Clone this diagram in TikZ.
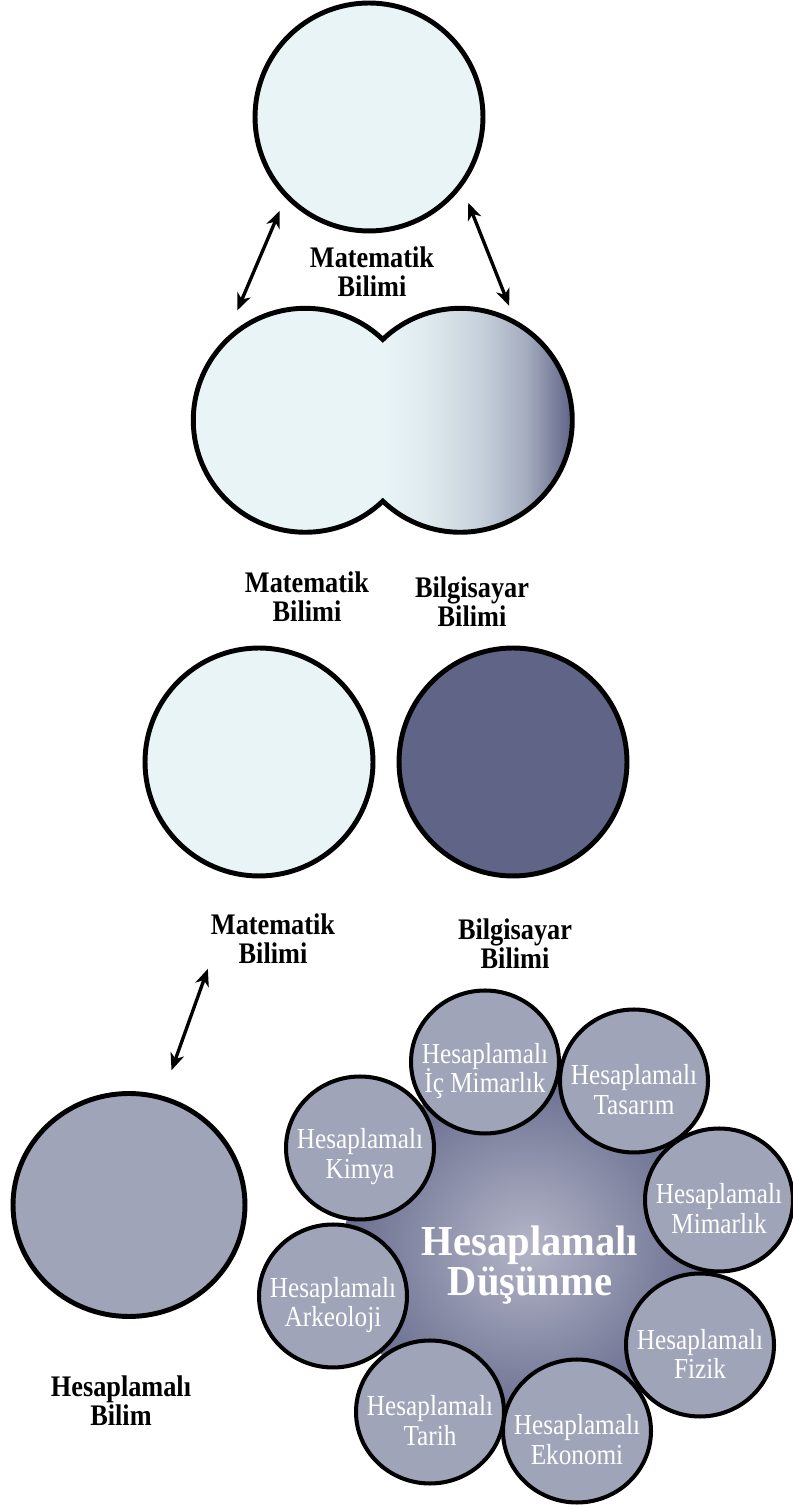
\documentclass[tikz,border=0pt]{standalone}
\usepackage{fontspec}
\setmainfont{Liberation Serif}
\newfontfamily\lblfont{Liberation Serif}[FakeStretch=0.88]
\newfontfamily\innerfont{Liberation Serif}[FakeStretch=0.87]
\newfontfamily\bigfont{Liberation Serif}[FakeStretch=0.95]
\usetikzlibrary{arrows.meta,
                 shapes.geometric,
                 backgrounds}
\lineskiplimit=-20pt

\definecolor{mathc}{HTML}{E8F4F6}
\definecolor{compc}{HTML}{606487}
\definecolor{slatec}{HTML}{A0A4B9}
\definecolor{blobin}{HTML}{B3B5C7}
\definecolor{blobout}{HTML}{666A8C}

\pgfdeclarehorizontalshading{mergeshade}{100bp}{color(0bp)=(mathc); color(50bp)=(mathc); color(56bp)=(mathc!93!compc); color(63bp)=(mathc!75!compc); color(69bp)=(mathc!50!compc); color(75bp)=(compc); color(100bp)=(compc)}

\tikzset{bigc/.style = {circle, draw, line width=2.8pt, minimum size=4.56cm, inner sep=0pt}}
\tikzset{lobe/.style = {circle, minimum size=4.48cm, inner sep=0pt, outer sep=0pt}}
\tikzset{smallc/.style = {ellipse, draw, line width=2.3pt, fill=slatec, minimum width=2.96cm, minimum height=2.86cm, inner sep=0pt}}
\tikzset{lbl/.style = {align=center, font=\lblfont\bfseries\fontsize{17}{16.5}\selectfont, inner sep=1pt}}
\tikzset{intxt/.style = {align=center, text=white, font=\innerfont\fontsize{16.5}{17}\selectfont, yshift=-0.18cm}}
\tikzset{dbl/.style = {{Stealth[length=0.34cm,width=0.28cm,inset=0.1cm]}-{Stealth[length=0.34cm,width=0.28cm,inset=0.1cm]}, line width=1.9pt}}

\begin{document}
\begin{tikzpicture}[x=0.02cm, y=0.02cm]
    \useasboundingbox (0,0) rectangle (792,1505);

    \node[bigc, fill=mathc] (mtop) at (369,1388) {};
    \node[lbl] (lblmtop) at (372,1233) {Matematik\\Bilimi};

    % merged circles
    \node[lobe] (lobeL) at (305,1085) {};
    \node[lobe] (lobeR) at (460,1085) {};
    \path[shading=mergeshade] (lobeL) circle [radius=112] (lobeR) circle [radius=112];
    \draw[line width=2.8pt] (lobeL.46.2) arc [start angle=46.2, end angle=313.8, radius=112]
        arc [start angle=226.2, end angle=493.8, radius=112] -- cycle;
    \draw[dbl, shorten <=0.28cm, shorten >=0.72cm] (mtop.224.2) -- (lobeL.137.9);
    \draw[dbl, shorten <=0.34cm, shorten >=0.37cm] (mtop.323) -- (lobeR.60.7);
    \node[lbl] (lblm2) at (307,908) {Matematik\\Bilimi};
    \node[lbl] (lblb2) at (472,903) {Bilgisayar\\Bilimi};

    % separate circles
    \node[bigc, fill=mathc] (m3) at (259,743) {};
    \node[bigc, fill=compc] (b3) at (513,743) {};
    \node[lbl] (lblm3) at (273,566) {Matematik\\Bilimi};
    \node[lbl] (lblb3) at (515,561) {Bilgisayar\\Bilimi};

    \node[bigc, ellipse, fill=slatec, minimum width=4.64cm, minimum height=4.46cm] (hbil) at (129,300) {};
    \node[lbl] (lblhb) at (121,104) {Hesaplamalı\\Bilim};
    \draw[dbl, shorten <=0.06cm, shorten >=0.54cm] (lblm3.south west) -- (hbil.73);

    % Hesaplamalı Düşünme
    \node[smallc, label={[intxt]center:Hesaplamalı\\İç Mimarlık}] (icm) at (485,443) {};
    \node[smallc, label={[intxt]center:Hesaplamalı\\Tasarım}] (tas) at (634,424) {};
    \node[smallc, label={[intxt]center:Hesaplamalı\\Mimarlık}] (mim) at (719,305) {};
    \node[smallc, label={[intxt]center:Hesaplamalı\\Fizik}] (fiz) at (700,160) {};
    \node[smallc, label={[intxt]center:Hesaplamalı\\Ekonomi}] (eko) at (577,74) {};
    \node[smallc, label={[intxt]center:Hesaplamalı\\Tarih}] (tar) at (430,93) {};
    \node[smallc, label={[intxt]center:Hesaplamalı\\Arkeoloji}] (ark) at (333,209) {};
    \node[smallc, label={[intxt]center:Hesaplamalı\\Kimya}] (kim) at (360,357) {};
    \begin{scope}[on background layer]
        \fill[inner color=blobin, outer color=blobout] (icm.center) -- (tas.center) -- (mim.center) -- (fiz.center)
            -- (eko.center) -- (tar.center) -- (ark.center) -- (kim.center) -- cycle;
    \end{scope}
    \node[align=center, text=white, font=\bigfont\bfseries\fontsize{24.3}{23}\selectfont] (hdus) at (530,240) {Hesaplamalı\\Düşünme};

\end{tikzpicture}
\end{document}
